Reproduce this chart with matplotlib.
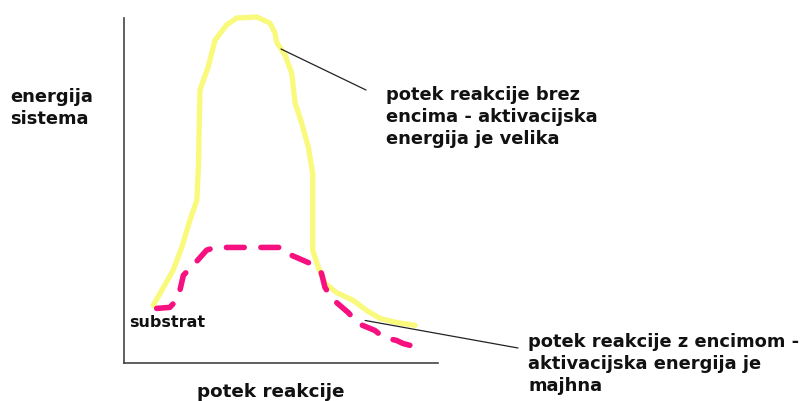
import matplotlib
matplotlib.use("Agg")
import matplotlib.pyplot as plt

# -----------------------------
# Data (schematic units: progress 0-100, energy 0-100)
# -----------------------------
no_enzyme_x = [9.3, 12.0, 15.6, 18.4, 21.0, 23.2, 23.7, 23.9, 24.2, 26.8, 29.0,
               32.7, 35.9, 42.3, 46.5, 48.1, 48.6, 51.3, 53.4, 54.5, 56.6, 58.7,
               60.1, 60.1, 60.1, 61.9, 64.0, 67.7, 73.0, 77.3, 81.5, 86.8, 92.7]
no_enzyme_y = [16.6, 20.9, 26.7, 33.4, 41.3, 47.1, 56.7, 66.6, 79.1, 85.8, 93.6,
               98.0, 100.0, 100.3, 98.5, 95.6, 93.0, 89.2, 84.0, 75.3, 69.5, 62.5,
               54.9, 42.2, 32.6, 27.6, 23.0, 20.3, 18.0, 15.1, 12.8, 11.6, 10.8]

enzyme_x = [10.4, 14.6, 16.6, 17.8, 18.9, 21.0, 22.6, 26.3, 29.0, 37.5, 44.9,
            50.7, 53.4, 59.2, 61.8, 62.9, 64.0, 65.6, 67.7, 71.4, 74.6, 79.9,
            82.6, 86.8, 88.9, 94.8]
enzyme_y = [15.7, 16.0, 18.0, 20.9, 25.3, 27.3, 28.8, 32.6, 33.4, 33.4, 33.4,
            33.4, 31.1, 28.8, 27.3, 25.9, 21.8, 19.5, 17.4, 14.5, 11.3, 9.3,
            7.3, 6.4, 5.5, 4.1]

y_label = "energija\nsistema"
x_label = "potek reakcije"
substrate_label = "substrat"
no_enzyme_label = "potek reakcije brez\nencima - aktivacijska\nenergija je velika"
enzyme_label = "potek reakcije z encimom -\naktivacijska energija je\nmajhna"

# leader line anchors on the curves (schematic units)
no_enzyme_anchor = (50.0, 91.0)
enzyme_anchor = (76.8, 12.2)

W, H = 808, 401


def fx(px):
    return px / W


def fy(py):
    return 1 - py / H


# -----------------------------
# Figure
# -----------------------------
fig = plt.figure(figsize=(W / 100, H / 100), dpi=100)
fig.patch.set_facecolor("white")

ax = fig.add_axes([fx(124), fy(362.5), (438 - 124) / W, (362.5 - 18) / H])
ax.set_xlim(0, 100)
ax.set_ylim(0, 100)
for side in ["top", "right"]:
    ax.spines[side].set_visible(False)
for side in ["left", "bottom"]:
    ax.spines[side].set_color("#444444")
    ax.spines[side].set_linewidth(1.2)
ax.set_xticks([])
ax.set_yticks([])
ax.patch.set_alpha(0)

ax.plot(no_enzyme_x, no_enzyme_y, color="#f9f97c", lw=3.8,
        solid_capstyle="round", solid_joinstyle="round", clip_on=False)
ax.plot(enzyme_x, enzyme_y, color="#f7107f", lw=4.0,
        dashes=(3.2, 3.0), dash_capstyle="round", clip_on=False)

font = dict(family="DejaVu Sans", weight="bold", color="#111111")

# leader lines
ax.annotate("", xy=no_enzyme_anchor, xytext=(fx(366), fy(90)),
            textcoords="figure fraction",
            arrowprops=dict(arrowstyle="-", color="#222222", lw=0.9,
                            shrinkA=0, shrinkB=0), annotation_clip=False)
ax.annotate("", xy=enzyme_anchor, xytext=(fx(518), fy(348)),
            textcoords="figure fraction",
            arrowprops=dict(arrowstyle="-", color="#222222", lw=0.9,
                            shrinkA=0, shrinkB=0), annotation_clip=False)

# labels
fig.text(fx(10), fy(124), y_label, fontsize=12.9, linespacing=1.27,
         ha="left", va="baseline", **font)
fig.text(fx(271), fy(397), x_label, fontsize=13.2,
         ha="center", va="baseline", **font)
fig.text(fx(129), fy(327), substrate_label, fontsize=11.5,
         ha="left", va="baseline", **font)
fig.text(fx(386), fy(144), no_enzyme_label, fontsize=12.9, linespacing=1.27,
         ha="left", va="baseline", **font)
fig.text(fx(528), fy(391), enzyme_label, fontsize=12.9, linespacing=1.27,
         ha="left", va="baseline", **font)

fig.savefig("out.png", dpi=100, facecolor="white")
plt.close(fig)
